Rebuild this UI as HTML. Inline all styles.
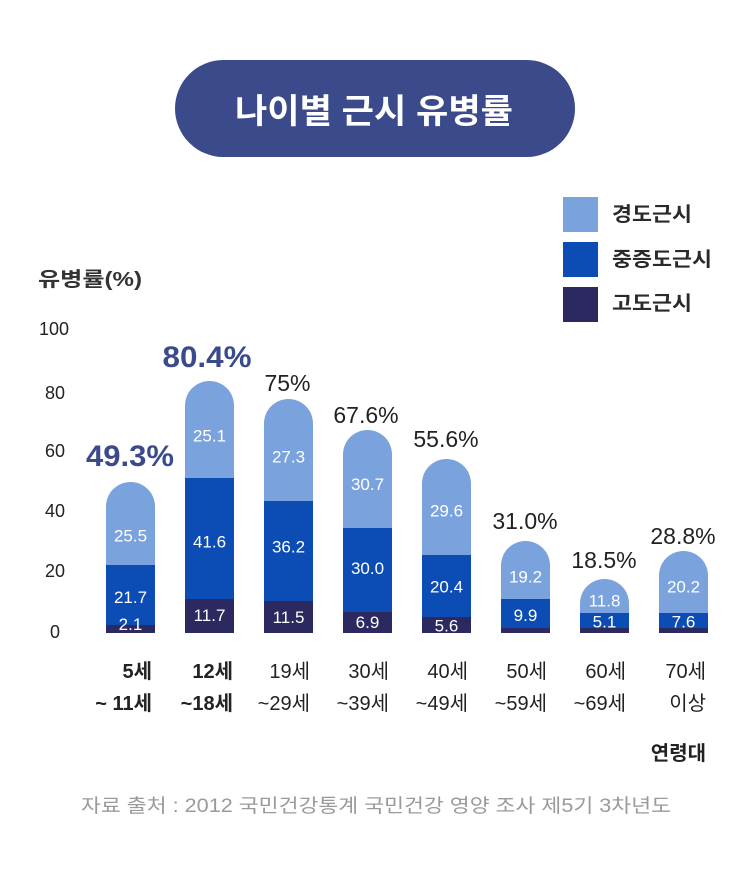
<!DOCTYPE html>
<html><head><meta charset="utf-8"><style>
html,body{margin:0;padding:0;background:#fff;}
svg{display:block;}
text{font-family:"Liberation Sans","Noto Sans CJK KR",sans-serif;}
.k{font-family:"Liberation Sans","Noto Sans CJK KR",sans-serif;}
</style></head><body>
<svg width="750" height="882" viewBox="0 0 750 882" xmlns="http://www.w3.org/2000/svg">
<rect width="750" height="882" fill="#fff"/>
<!-- title -->
<rect x="175" y="60" width="400" height="97" rx="48.5" fill="#3a4a8b"/>
<text x="374" y="123" fill="#fff" font-size="34" font-weight="700" text-anchor="middle" textLength="278" lengthAdjust="spacingAndGlyphs">나이별 근시 유병률</text>

<!-- legend -->
<rect x="563" y="197" width="35" height="35" fill="#7aa2dd"/>
<rect x="563" y="242" width="35" height="35" fill="#0b4db5"/>
<rect x="563" y="287" width="35" height="35" fill="#2b2960"/>
<text x="612" y="221" fill="#2a2a2a" font-size="20" font-weight="700" textLength="80" lengthAdjust="spacingAndGlyphs">경도근시</text>
<text x="612" y="266" fill="#2a2a2a" font-size="20" font-weight="700" textLength="100" lengthAdjust="spacingAndGlyphs">중증도근시</text>
<text x="612" y="310" fill="#2a2a2a" font-size="20" font-weight="700" textLength="80" lengthAdjust="spacingAndGlyphs">고도근시</text>

<!-- y axis -->
<text x="38" y="286" fill="#333" font-size="20" font-weight="700" textLength="104" lengthAdjust="spacingAndGlyphs">유병률(%)</text>
<g fill="#222" font-size="18" text-anchor="middle">
<text x="54" y="335">100</text>
<text x="55" y="399">80</text>
<text x="55" y="457">60</text>
<text x="55" y="517">40</text>
<text x="55" y="577">20</text>
<text x="55" y="638">0</text>
</g>

<!-- bars -->
<g>
<!-- bar1 -->
<path d="M106,633 V506.5 A24.5,24.5 0 0 1 155,506.5 V633 Z" fill="#7aa2dd"/>
<rect x="106" y="565" width="49" height="68" fill="#0b4db5"/>
<rect x="106" y="625" width="49" height="8" fill="#2b2960"/>
<!-- bar2 -->
<path d="M185,633 V405.5 A24.5,24.5 0 0 1 234,405.5 V633 Z" fill="#7aa2dd"/>
<rect x="185" y="478" width="49" height="155" fill="#0b4db5"/>
<rect x="185" y="599" width="49" height="34" fill="#2b2960"/>
<!-- bar3 -->
<path d="M264,633 V423.5 A24.5,24.5 0 0 1 313,423.5 V633 Z" fill="#7aa2dd"/>
<rect x="264" y="501" width="49" height="132" fill="#0b4db5"/>
<rect x="264" y="601" width="49" height="32" fill="#2b2960"/>
<!-- bar4 -->
<path d="M343,633 V454.5 A24.5,24.5 0 0 1 392,454.5 V633 Z" fill="#7aa2dd"/>
<rect x="343" y="528" width="49" height="105" fill="#0b4db5"/>
<rect x="343" y="612" width="49" height="21" fill="#2b2960"/>
<!-- bar5 -->
<path d="M422,633 V483.5 A24.5,24.5 0 0 1 471,483.5 V633 Z" fill="#7aa2dd"/>
<rect x="422" y="555" width="49" height="78" fill="#0b4db5"/>
<rect x="422" y="617" width="49" height="16" fill="#2b2960"/>
<!-- bar6 -->
<path d="M501,633 V565.5 A24.5,24.5 0 0 1 550,565.5 V633 Z" fill="#7aa2dd"/>
<rect x="501" y="599" width="49" height="34" fill="#0b4db5"/>
<rect x="501" y="628" width="49" height="5" fill="#2b2960"/>
<!-- bar7 -->
<path d="M580,633 V603.5 A24.5,24.5 0 0 1 629,603.5 V633 Z" fill="#7aa2dd"/>
<rect x="580" y="613" width="49" height="20" fill="#0b4db5"/>
<rect x="580" y="628" width="49" height="5" fill="#2b2960"/>
<!-- bar8 -->
<path d="M659,633 V575.5 A24.5,24.5 0 0 1 708,575.5 V633 Z" fill="#7aa2dd"/>
<rect x="659" y="613" width="49" height="20" fill="#0b4db5"/>
<rect x="659" y="628" width="49" height="5" fill="#2b2960"/>
</g>

<!-- inside labels -->
<g fill="#fff" font-size="17" text-anchor="middle">
<text x="130.5" y="541.5">25.5</text>
<text x="130.5" y="603">21.7</text>
<text x="130.5" y="630">2.1</text>
<text x="209.5" y="441.5">25.1</text>
<text x="209.5" y="547.5">41.6</text>
<text x="209.5" y="621">11.7</text>
<text x="288.5" y="462.5">27.3</text>
<text x="288.5" y="552.5">36.2</text>
<text x="288.5" y="623">11.5</text>
<text x="367.5" y="490">30.7</text>
<text x="367.5" y="574">30.0</text>
<text x="367.5" y="628">6.9</text>
<text x="446.5" y="516.5">29.6</text>
<text x="446.5" y="592.5">20.4</text>
<text x="446.5" y="631.5">5.6</text>
<text x="525.5" y="582.5">19.2</text>
<text x="525.5" y="621">9.9</text>
<text x="604.5" y="606.5">11.8</text>
<text x="604.5" y="627.5">5.1</text>
<text x="683.5" y="592.5">20.2</text>
<text x="683.5" y="627.5">7.6</text>
</g>

<!-- totals -->
<g fill="#3a4a8b" font-size="30" font-weight="700" text-anchor="middle">
<text x="130" y="466" textLength="88" lengthAdjust="spacingAndGlyphs">49.3%</text>
<text x="207" y="367" textLength="89" lengthAdjust="spacingAndGlyphs">80.4%</text>
</g>
<g fill="#222" font-size="23" text-anchor="middle">
<text x="287.5" y="391">75%</text>
<text x="366" y="423">67.6%</text>
<text x="446" y="447">55.6%</text>
<text x="525" y="529">31.0%</text>
<text x="604" y="568">18.5%</text>
<text x="683" y="544">28.8%</text>
</g>

<!-- x labels -->
<g fill="#222" font-size="20" text-anchor="end">
<text x="152" y="678" font-weight="700">5세</text>
<text x="152" y="710" font-weight="700">~ 11세</text>
<text x="233" y="678" font-weight="700">12세</text>
<text x="233" y="710" font-weight="700">~18세</text>
<text x="310" y="678">19세</text>
<text x="310" y="710">~29세</text>
<text x="389" y="678">30세</text>
<text x="389" y="710">~39세</text>
<text x="468" y="678">40세</text>
<text x="468" y="710">~49세</text>
<text x="547" y="678">50세</text>
<text x="547" y="710">~59세</text>
<text x="626" y="678">60세</text>
<text x="626" y="710">~69세</text>
<text x="706" y="678">70세</text>
<text x="706" y="710">이상</text>
</g>
<text x="706" y="760" fill="#222" font-size="20" font-weight="700" text-anchor="end">연령대</text>

<!-- footer -->
<text x="376" y="812" fill="#9a9a9a" font-size="19" text-anchor="middle" textLength="590" lengthAdjust="spacingAndGlyphs">자료 출처 : 2012 국민건강통계 국민건강 영양 조사 제5기 3차년도</text>
</svg>
</body></html>
